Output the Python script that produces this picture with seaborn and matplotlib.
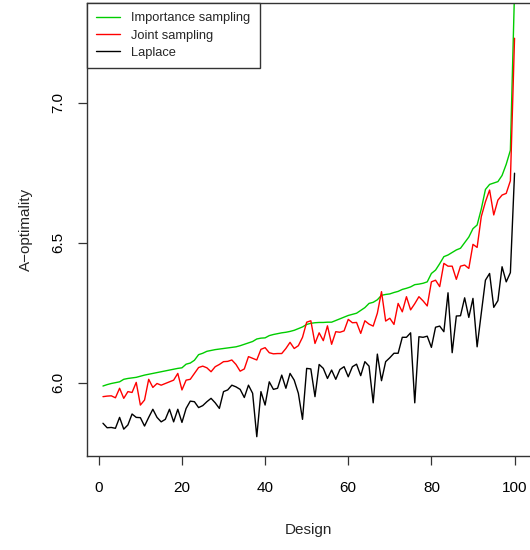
import numpy as np
import pandas as pd
import matplotlib
matplotlib.use("Agg")
import matplotlib.pyplot as plt
import seaborn as sns
from matplotlib.lines import Line2D

design = list(range(1, 101))

importance = [
    5.988, 5.993, 5.997, 6.000, 6.003, 6.012, 6.015, 6.017, 6.019, 6.023,
    6.027, 6.030, 6.033, 6.036, 6.039, 6.042, 6.045, 6.048, 6.051, 6.053,
    6.066, 6.070, 6.080, 6.100, 6.105, 6.112, 6.115, 6.118, 6.120, 6.122,
    6.124, 6.126, 6.128, 6.132, 6.137, 6.142, 6.147, 6.156, 6.159, 6.160,
    6.168, 6.172, 6.175, 6.178, 6.180, 6.183, 6.187, 6.193, 6.199, 6.208,
    6.212, 6.214, 6.215, 6.215, 6.216, 6.216, 6.222, 6.228, 6.234, 6.240,
    6.244, 6.248, 6.258, 6.268, 6.283, 6.287, 6.296, 6.312, 6.315, 6.317,
    6.322, 6.326, 6.333, 6.337, 6.342, 6.350, 6.352, 6.355, 6.360, 6.390,
    6.402, 6.425, 6.450, 6.456, 6.465, 6.474, 6.480, 6.500, 6.520, 6.550,
    6.563, 6.620, 6.690, 6.708, 6.713, 6.718, 6.740, 6.780, 6.830, 7.400,
]

joint = [
    5.950, 5.952, 5.953, 5.946, 5.980, 5.944, 5.968, 5.965, 6.001, 5.920,
    5.938, 6.012, 5.983, 5.997, 5.991, 5.997, 6.003, 6.009, 6.033, 5.974,
    6.009, 6.012, 6.033, 6.054, 6.059, 6.053, 6.039, 6.057, 6.065, 6.075,
    6.076, 6.081, 6.065, 6.041, 6.049, 6.093, 6.087, 6.081, 6.119, 6.125,
    6.107, 6.103, 6.104, 6.104, 6.122, 6.144, 6.122, 6.132, 6.162, 6.216,
    6.221, 6.140, 6.178, 6.150, 6.203, 6.137, 6.182, 6.180, 6.185, 6.226,
    6.214, 6.215, 6.176, 6.221, 6.209, 6.202, 6.248, 6.325, 6.220, 6.230,
    6.208, 6.283, 6.253, 6.307, 6.260, 6.282, 6.307, 6.292, 6.274, 6.360,
    6.366, 6.343, 6.426, 6.416, 6.416, 6.369, 6.416, 6.420, 6.408, 6.494,
    6.483, 6.593, 6.646, 6.688, 6.599, 6.652, 6.670, 6.676, 6.721, 7.230,
]

laplace = [
    5.855, 5.839, 5.840, 5.837, 5.876, 5.834, 5.849, 5.888, 5.876, 5.875,
    5.845, 5.876, 5.905, 5.876, 5.860, 5.869, 5.905, 5.860, 5.905, 5.858,
    5.908, 5.934, 5.932, 5.911, 5.918, 5.932, 5.944, 5.928, 5.908, 5.968,
    5.974, 5.991, 5.985, 5.976, 5.947, 5.991, 5.962, 5.807, 5.968, 5.920,
    6.003, 5.976, 5.980, 6.027, 5.980, 6.033, 6.009, 5.962, 5.869, 6.051,
    6.049, 5.950, 6.065, 6.051, 6.015, 6.045, 6.012, 6.047, 6.057, 6.021,
    6.057, 6.066, 6.025, 6.075, 6.059, 5.928, 6.102, 6.007, 6.075, 6.089,
    6.105, 6.105, 6.162, 6.162, 6.178, 5.928, 6.164, 6.162, 6.166, 6.126,
    6.198, 6.202, 6.182, 6.321, 6.107, 6.238, 6.239, 6.303, 6.233, 6.301,
    6.128, 6.248, 6.366, 6.390, 6.269, 6.293, 6.414, 6.360, 6.393, 6.748,
]

series_names = ["Importance sampling", "Joint sampling", "Laplace"]
series_colors = ["#00CD00", "#FF0000", "#000000"]

df = pd.concat([
    pd.DataFrame({"Design": design, "value": vals, "method": name})
    for name, vals in zip(series_names, [importance, joint, laplace])
])

sns.set_theme(style="white")
plt.rcParams["font.family"] = ["Liberation Sans", "DejaVu Sans"]

fig = plt.figure(figsize=(5.30, 5.50), dpi=100)
ax = fig.add_axes([86.5 / 530, (550 - 456.3) / 550, (531 - 86.5) / 530, (456.3 - 2.7) / 550])

sns.lineplot(data=df, x="Design", y="value", hue="method",
             palette=dict(zip(series_names, series_colors)),
             hue_order=series_names, linewidth=1.0, ax=ax, legend=False)

ax.set_xlim(-2.96, 103.96)
ax.set_ylim(5.737, 7.357)
ax.set_xticks([0, 20, 40, 60, 80, 100])
ax.set_yticks([6.0, 6.5, 7.0])
ax.set_yticklabels(["6.0", "6.5", "7.0"], rotation=90, va="center")
ax.set_xlabel("")
ax.set_ylabel("")
ax.tick_params(axis="both", direction="out", length=6.5, width=0.9,
               color="#333333", labelsize=11, labelcolor="black",
               bottom=True, left=True)
ax.tick_params(axis="x", pad=11)
ax.tick_params(axis="y", pad=9)
for s in ax.spines.values():
    s.set_visible(True)
    s.set_color("#333333")
    s.set_linewidth(1.0)

fig.text(308.7 / 530, 1 - 530 / 550, "Design", ha="center", va="center", fontsize=11)
fig.text(25.5 / 530, 1 - 229.5 / 550, "A\u2212optimality", ha="center", va="center",
         rotation=90, fontsize=11)

handles = [Line2D([], [], color=c, lw=1.0) for c in series_colors]
leg = ax.legend(handles, series_names, loc="upper left", bbox_to_anchor=(0, 1),
                borderaxespad=0, frameon=True, fancybox=False, fontsize=9.3,
                handlelength=1.85, handletextpad=0.9, labelspacing=0.42,
                borderpad=0.72, edgecolor="#333333")
leg.get_frame().set_linewidth(1.0)
leg.get_frame().set_alpha(1)

fig.savefig("out.png", dpi=100)
